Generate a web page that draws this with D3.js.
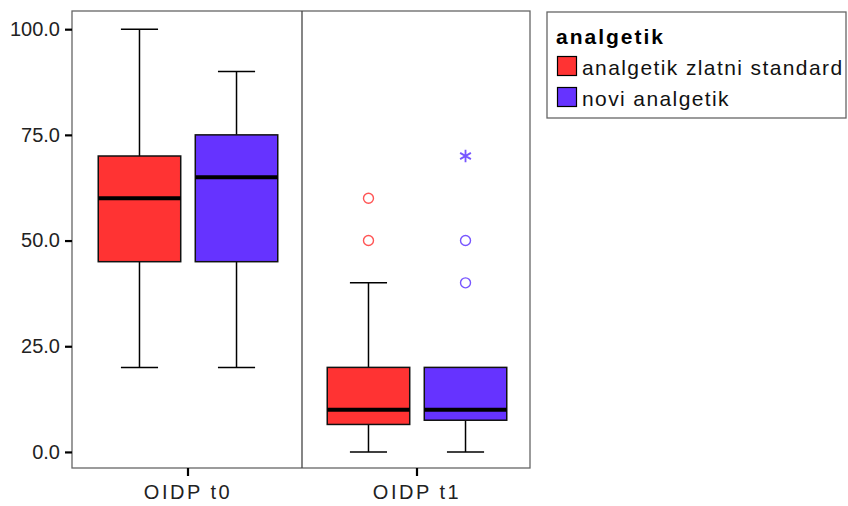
<!DOCTYPE html>
<html>
<head>
<meta charset="utf-8">
<script src="https://cdn.jsdelivr.net/npm/d3@7"></script>
<style>
  html, body { margin: 0; padding: 0; background: #fff; }
  svg { display: block; font-family: Arial, "Liberation Sans", sans-serif; }
</style>
</head>
<body>
<svg id="chart" width="848" height="506"></svg>
<script>
// ---- data ----
const categories = ["OIDP t0", "OIDP t1"];
const series = ["analgetik zlatni standard", "novi analgetik"];
const legendTitle = "analgetik";
const colors = ["#FF3333", "#6633FF"];
const outlierColors = ["#FF5555", "#7755FF"];
// per series, per category
const whiskerLow  = [[20, 0], [20, 0]];
const q1          = [[45, 6.5], [45, 7.5]];
const median      = [[60, 10], [65, 10]];
const q3          = [[70, 20], [75, 20]];
const whiskerHigh = [[100, 40], [90, 20]];
const outliers    = [[[], [50, 60]], [[], [40, 50]]];
const extremes    = [[[], []], [[], [70]]];
const yTicks = [0, 25, 50, 75, 100];

// ---- layout ----
const svg = d3.select("#chart");
const plot = { left: 72, right: 530, top: 11, bottom: 468 };

const x = d3.scaleBand().domain(categories).range([plot.left + 1.5, plot.right + 1.5]).padding(0);
const xs = d3.scaleBand().domain(series).range([0, x.bandwidth()])
  .paddingInner(0.15).paddingOuter(0.255);
const y = d3.scaleLinear().domain([-3.8, 104.3]).range([plot.bottom, plot.top]);

// frame
svg.append("rect")
  .attr("x", plot.left).attr("y", plot.top)
  .attr("width", plot.right - plot.left).attr("height", plot.bottom - plot.top)
  .attr("fill", "#fff").attr("stroke", "#666").attr("stroke-width", 1.3);
// panel divider
const divX = Math.round(x(categories[1])) - 1;
svg.append("line")
  .attr("x1", divX).attr("x2", divX)
  .attr("y1", plot.top).attr("y2", plot.bottom)
  .attr("stroke", "#444").attr("stroke-width", 1.3);

// y axis
const yAxis = svg.append("g").attr("transform", `translate(${plot.left},0)`)
  .call(d3.axisLeft(y).tickValues(yTicks).tickFormat(d3.format(".1f")).tickSize(7).tickPadding(5));
yAxis.select(".domain").remove();
yAxis.selectAll(".tick line").attr("stroke", "#000").attr("stroke-width", 2.2);
yAxis.selectAll(".tick text").attr("fill", "#222").style("font-size", "20px")
  .style("letter-spacing", "0px").style("font-family", "Arial, 'Liberation Sans', sans-serif");

// x axis
const xAxis = svg.append("g").attr("transform", `translate(0,${plot.bottom})`)
  .call(d3.axisBottom(x).tickSize(8).tickPadding(9));
xAxis.select(".domain").remove();
xAxis.selectAll(".tick line").attr("stroke", "#000").attr("stroke-width", 2.2);
xAxis.selectAll(".tick text").attr("fill", "#222").style("font-size", "20px")
  .style("letter-spacing", "2.5px").style("font-family", "Arial, 'Liberation Sans', sans-serif");

// boxes
const boxes = [];
series.forEach((s, si) => {
  categories.forEach((c, ci) => {
    boxes.push({ s, si, c, ci,
      lo: whiskerLow[si][ci], q1: q1[si][ci], med: median[si][ci],
      q3: q3[si][ci], hi: whiskerHigh[si][ci],
      out: outliers[si][ci], ext: extremes[si][ci] });
  });
});

const g = svg.append("g");
boxes.forEach(b => {
  const x0 = x(b.c) + xs(b.s);
  const w = xs.bandwidth();
  const cx = x0 + w / 2;
  const capW = w * 0.45;
  const gg = g.append("g");
  // whiskers
  gg.append("line").attr("x1", cx).attr("x2", cx).attr("y1", y(b.q3)).attr("y2", y(b.hi))
    .attr("stroke", "#000").attr("stroke-width", 1.5);
  gg.append("line").attr("x1", cx).attr("x2", cx).attr("y1", y(b.q1)).attr("y2", y(b.lo))
    .attr("stroke", "#000").attr("stroke-width", 1.5);
  if (b.hi > b.q3) {
    gg.append("line").attr("x1", cx - capW / 2).attr("x2", cx + capW / 2)
      .attr("y1", y(b.hi)).attr("y2", y(b.hi)).attr("stroke", "#000").attr("stroke-width", 1.5);
  }
  gg.append("line").attr("x1", cx - capW / 2).attr("x2", cx + capW / 2)
    .attr("y1", y(b.lo)).attr("y2", y(b.lo)).attr("stroke", "#000").attr("stroke-width", 1.5);
  // box
  gg.append("rect").attr("x", x0).attr("width", w)
    .attr("y", y(b.q3)).attr("height", y(b.q1) - y(b.q3))
    .attr("fill", colors[b.si]).attr("stroke", "#111").attr("stroke-width", 1.5);
  // median
  gg.append("line").attr("x1", x0).attr("x2", x0 + w)
    .attr("y1", y(b.med)).attr("y2", y(b.med)).attr("stroke", "#000").attr("stroke-width", 4);
  // outliers
  gg.selectAll("circle.out").data(b.out).join("circle").attr("class", "out")
    .attr("cx", cx).attr("cy", d => y(d)).attr("r", 5)
    .attr("fill", "none").attr("stroke", outlierColors[b.si]).attr("stroke-width", 1.4);
  gg.selectAll("path.ext").data(b.ext).join("path").attr("class", "ext")
    .attr("transform", d => `translate(${cx},${y(d)})`)
    .attr("d", d3.symbol(d3.symbolAsterisk, 110))
    .attr("fill", "none").attr("stroke", outlierColors[b.si]).attr("stroke-width", 1.8);
});

// legend
const lg = svg.append("g");
lg.append("rect").attr("x", 547).attr("y", 12).attr("width", 299).attr("height", 106)
  .attr("fill", "#fff").attr("stroke", "#666").attr("stroke-width", 1.3);
lg.append("text").attr("x", 556).attr("y", 44).text(legendTitle)
  .style("font-size", "21px").style("font-weight", "bold").style("letter-spacing", "2px")
  .attr("fill", "#000");
series.forEach((s, i) => {
  const yy = 56 + i * 31;
  lg.append("rect").attr("x", 557.5).attr("y", yy + 0.5).attr("width", 19).attr("height", 19)
    .attr("fill", colors[i]).attr("stroke", "#000").attr("stroke-width", 1.2);
  lg.append("text").attr("x", 582).attr("y", yy + 19).text(s)
    .style("font-size", "21px").style("letter-spacing", "1.4px").attr("fill", "#111");
});
</script>
</body>
</html>
